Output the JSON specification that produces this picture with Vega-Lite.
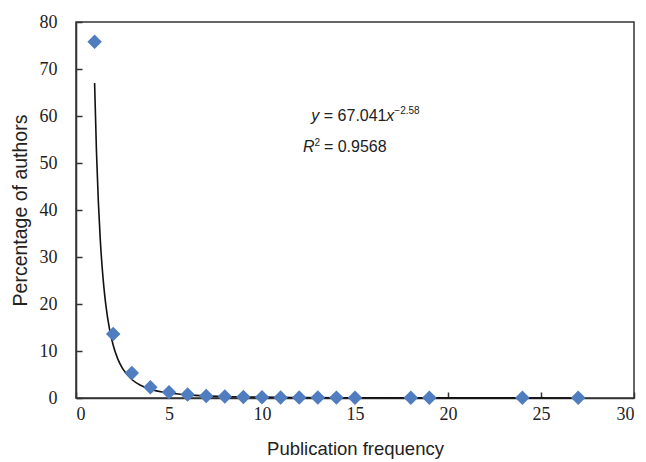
{
  "$schema": "https://vega.github.io/schema/vega-lite/v6.json",
  "width": 558,
  "height": 376,
  "autosize": {"type": "none"},
  "padding": {"left": 76, "top": 22, "right": 12, "bottom": 64},
  "background": "white",
  "config": {
    "view": {"stroke": "#333333", "strokeWidth": 1.5},
    "axis": {
      "grid": false,
      "domainColor": "#333333",
      "domainWidth": 1.5,
      "tickColor": "#333333",
      "tickWidth": 1.5,
      "tickSize": -6,
      "labelFont": "Liberation Serif",
      "labelFontSize": 18,
      "labelColor": "#222222",
      "titleFont": "Liberation Sans",
      "titleFontWeight": "normal",
      "titleColor": "#222222"
    }
  },
  "datasets": {
    "points": [
      {"freq": 1, "pct": 75.8},
      {"freq": 2, "pct": 13.6},
      {"freq": 3, "pct": 5.3},
      {"freq": 4, "pct": 2.3},
      {"freq": 5, "pct": 1.2},
      {"freq": 6, "pct": 0.75},
      {"freq": 7, "pct": 0.45},
      {"freq": 8, "pct": 0.3},
      {"freq": 9, "pct": 0.2},
      {"freq": 10, "pct": 0.15},
      {"freq": 11, "pct": 0.12},
      {"freq": 12, "pct": 0.1},
      {"freq": 13, "pct": 0.09},
      {"freq": 14, "pct": 0.08},
      {"freq": 15, "pct": 0.07},
      {"freq": 18, "pct": 0.05},
      {"freq": 19, "pct": 0.05},
      {"freq": 24, "pct": 0.03},
      {"freq": 27, "pct": 0.03}
    ],
    "trend": [
      {"freq": 1, "pct": 67.04},
      {"freq": 1.1, "pct": 52.43},
      {"freq": 1.2, "pct": 41.89},
      {"freq": 1.3, "pct": 34.07},
      {"freq": 1.4, "pct": 28.14},
      {"freq": 1.5, "pct": 23.55},
      {"freq": 1.6, "pct": 19.94},
      {"freq": 1.8, "pct": 14.71},
      {"freq": 2, "pct": 11.21},
      {"freq": 2.25, "pct": 8.27},
      {"freq": 2.5, "pct": 6.30},
      {"freq": 3, "pct": 3.94},
      {"freq": 3.5, "pct": 2.65},
      {"freq": 4, "pct": 1.875},
      {"freq": 5, "pct": 1.054},
      {"freq": 6, "pct": 0.659},
      {"freq": 7, "pct": 0.443},
      {"freq": 8, "pct": 0.314},
      {"freq": 10, "pct": 0.176},
      {"freq": 12, "pct": 0.110},
      {"freq": 15, "pct": 0.062},
      {"freq": 20, "pct": 0.0295},
      {"freq": 27, "pct": 0.0136}
    ],
    "eq": [
      {"freq": 12.65, "pct": 58.9}
    ],
    "r2": [
      {"freq": 12.2, "pct": 52.3}
    ]
  },
  "encoding": {
    "x": {
      "field": "freq",
      "type": "quantitative",
      "scale": {"domain": [0, 30], "nice": false, "zero": true},
      "axis": {"values": [0, 5, 10, 15, 20, 25, 30], "title": "Publication frequency", "titleFontSize": 18.5, "titlePadding": 16, "labelPadding": 13}
    },
    "y": {
      "field": "pct",
      "type": "quantitative",
      "scale": {"domain": [0, 80], "nice": false},
      "axis": {"values": [0, 10, 20, 30, 40, 50, 60, 70, 80], "title": "Percentage of authors", "titleFontSize": 19.5, "titlePadding": 9, "labelPadding": 25}
    }
  },
  "layer": [
    {
      "data": {"name": "trend"},
      "mark": {"type": "line", "color": "#111111", "strokeWidth": 1.6, "interpolate": "monotone"}
    },
    {
      "data": {"name": "points"},
      "mark": {"type": "point", "shape": "diamond", "filled": true, "color": "#4F7DC0", "opacity": 1, "size": 210}
    },
    {
      "data": {"name": "eq"},
      "mark": {"type": "text", "text": "y", "font": "Liberation Sans", "fontStyle": "italic", "fontSize": 16, "align": "left", "baseline": "alphabetic", "color": "#222222"}
    },
    {
      "data": {"name": "eq"},
      "mark": {"type": "text", "text": "= 67.041", "font": "Liberation Sans", "fontSize": 16, "align": "left", "baseline": "alphabetic", "dx": 12.5, "color": "#222222"}
    },
    {
      "data": {"name": "eq"},
      "mark": {"type": "text", "text": "x", "font": "Liberation Sans", "fontStyle": "italic", "fontSize": 16, "align": "left", "baseline": "alphabetic", "dx": 75, "color": "#222222"}
    },
    {
      "data": {"name": "eq"},
      "mark": {"type": "text", "text": "−2.58", "font": "Liberation Sans", "fontSize": 10, "align": "left", "baseline": "alphabetic", "dx": 83, "dy": -7, "color": "#222222"}
    },
    {
      "data": {"name": "r2"},
      "mark": {"type": "text", "text": "R", "font": "Liberation Sans", "fontStyle": "italic", "fontSize": 16, "align": "left", "baseline": "alphabetic", "color": "#222222"}
    },
    {
      "data": {"name": "r2"},
      "mark": {"type": "text", "text": "2", "font": "Liberation Sans", "fontSize": 10, "align": "left", "baseline": "alphabetic", "dx": 11.5, "dy": -6, "color": "#222222"}
    },
    {
      "data": {"name": "r2"},
      "mark": {"type": "text", "text": "= 0.9568", "font": "Liberation Sans", "fontSize": 16, "align": "left", "baseline": "alphabetic", "dx": 21, "color": "#222222"}
    }
  ]
}
